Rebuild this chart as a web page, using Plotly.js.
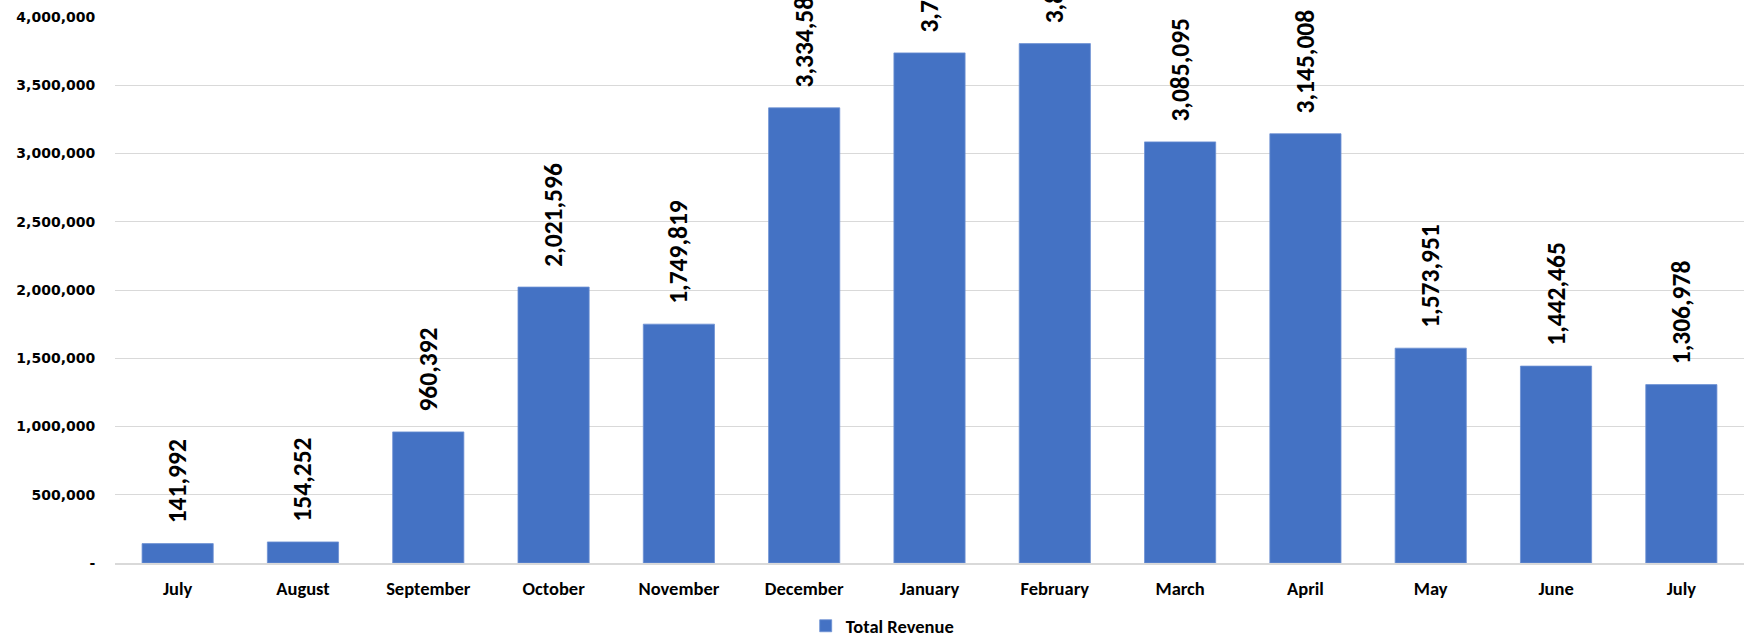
<!DOCTYPE html>
<html>
<head>
<meta charset="utf-8">
<script src="https://cdn.plot.ly/plotly-3.0.1.min.js"></script>
<style>
  html, body { margin: 0; padding: 0; background: #ffffff; }
  #chart { width: 1744px; height: 642px; }
</style>
</head>
<body>
<div id="chart"></div>
<script>
// ---- data ----
const months = ["July", "August", "September", "October", "November", "December",
                "January", "February", "March", "April", "May", "June", "July"];
const totalRevenue = [141992, 154252, 960392, 2021596, 1749819, 3334585,
                      3737000, 3805000, 3085095, 3145008, 1573951, 1442465, 1306978];
const yTickValues = [0, 500000, 1000000, 1500000, 2000000, 2500000, 3000000, 3500000, 4000000];
const yTickLabels = ["-", "500,000", "1,000,000", "1,500,000", "2,000,000",
                     "2,500,000", "3,000,000", "3,500,000", "4,000,000"];
const seriesName = "Total Revenue";

// unique x positions (two "July" entries)
const xIdx = months.map((m, i) => i);

const trace = {
  type: "bar",
  name: seriesName,
  x: xIdx,
  y: totalRevenue,
  marker: { color: "#4472C4", line: { color: "#6d91d3", width: 0.8 } },
  texttemplate: "\u00a0\u00a0\u00a0%{y:,}",
  textposition: "outside",
  textangle: -90,
  constraintext: "none",
  cliponaxis: false,
  textfont: { family: "Calibri, Carlito, Lato, sans-serif", size: 25.5, color: "#000000", weight: 700 },
  hoverinfo: "none",
  showlegend: true
};

const layout = {
  width: 1744,
  height: 642,
  margin: { l: 115, r: 0, t: 17, b: 79, pad: 0, autoexpand: false },
  paper_bgcolor: "#ffffff",
  plot_bgcolor: "#ffffff",
  bargap: 0.432,
  showlegend: true,
  legend: {
    orientation: "h",
    x: 0.424, xanchor: "left",
    y: -0.081, yanchor: "top",
    font: { family: "Calibri, Carlito, Lato, sans-serif", size: 18.5, color: "#000000", weight: 700 },
    itemwidth: 30,
    bgcolor: "rgba(0,0,0,0)"
  },
  xaxis: {
    tickmode: "array",
    tickvals: xIdx,
    ticktext: months,
    range: [-0.5, months.length - 0.5],
    showgrid: false,
    zeroline: false,
    showline: true,
    linecolor: "#d9d9d9",
    linewidth: 1.5,
    ticks: "outside",
    ticklen: 8,
    tickcolor: "rgba(0,0,0,0)",
    tickfont: { family: "Calibri, Carlito, Lato, sans-serif", size: 18.5, color: "#000000", weight: 700 },
    fixedrange: true
  },
  yaxis: {
    range: [0, 4000000],
    tickmode: "array",
    tickvals: yTickValues,
    ticktext: yTickLabels,
    showgrid: true,
    gridcolor: "#d9d9d9",
    gridwidth: 1,
    zeroline: false,
    showline: false,
    ticks: "outside",
    ticklen: 16,
    tickcolor: "rgba(0,0,0,0)",
    tickfont: { family: "DejaVu Sans, Verdana, sans-serif", size: 14, color: "#000000", weight: 700 },
    fixedrange: true
  },
  font: { family: "Calibri, Carlito, Lato, sans-serif" }
};

Plotly.newPlot("chart", [trace], layout, { displayModeBar: false, staticPlot: true });
</script>
</body>
</html>
